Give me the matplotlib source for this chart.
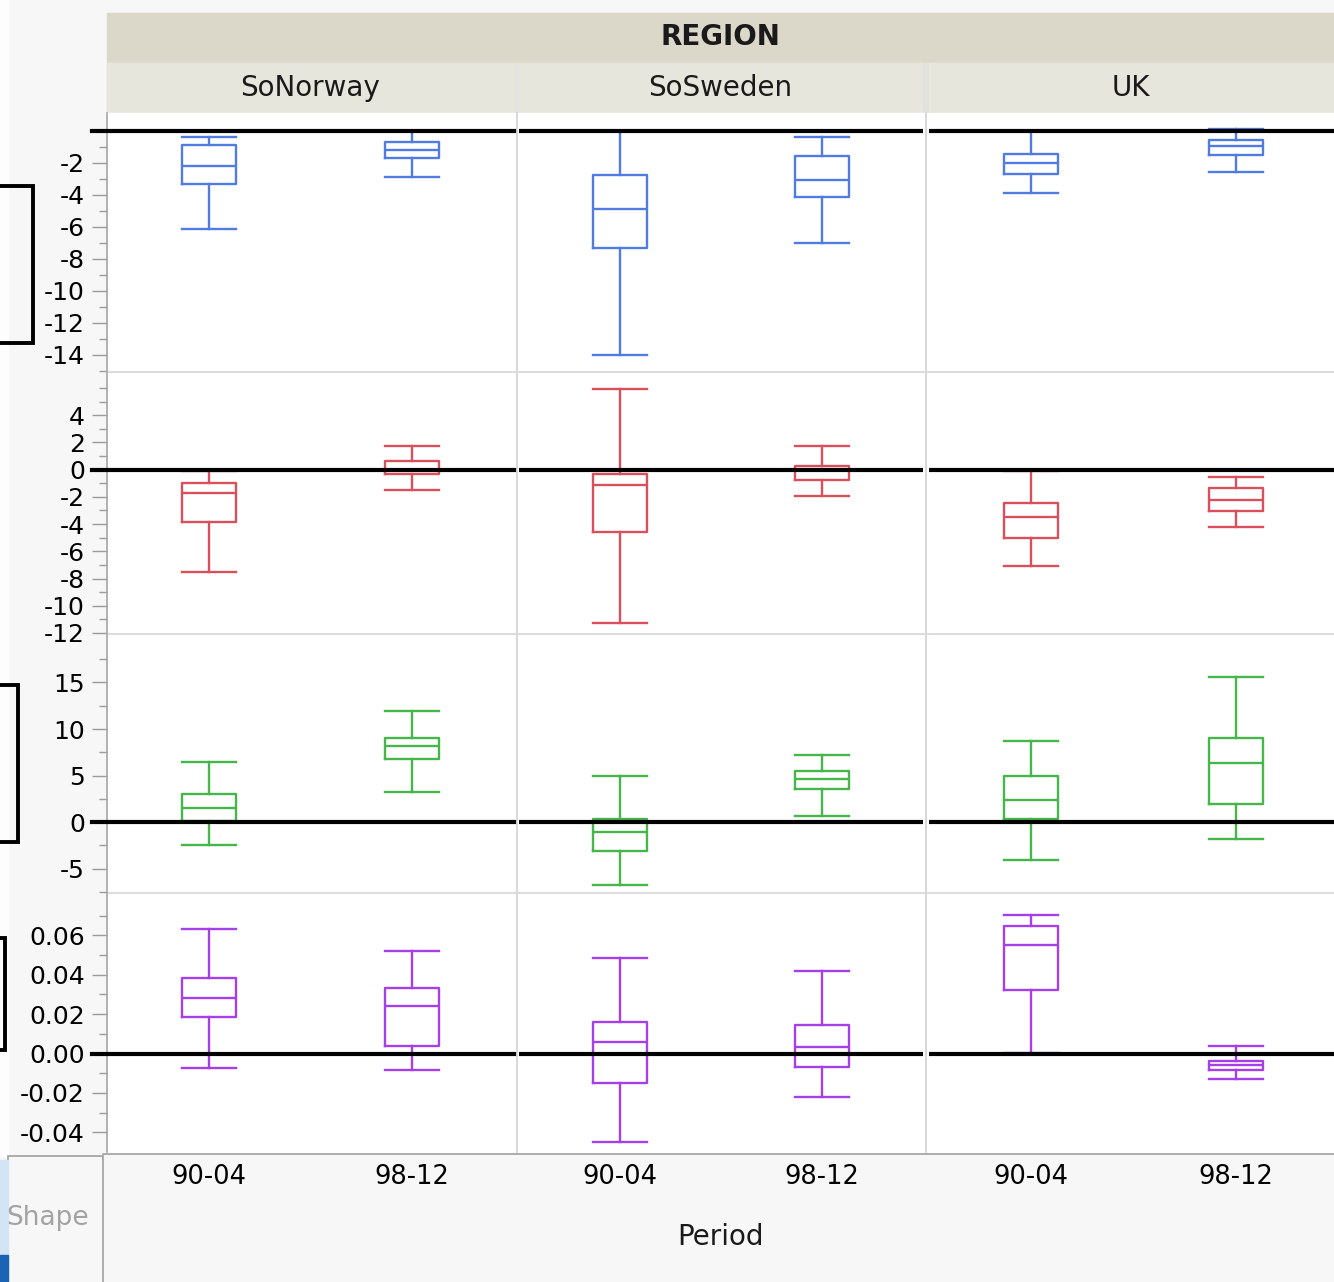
import matplotlib.pyplot as plt
from matplotlib.patches import Rectangle
from matplotlib.ticker import FormatStrFormatter

plt.rcParams['axes.unicode_minus'] = False
plt.rcParams['font.family'] = 'DejaVu Sans'

regions = ['SoNorway', 'SoSweden', 'UK']
periods = ['90-04', '98-12']

# order in every list: SoNorway 90-04, SoNorway 98-12, SoSweden 90-04, SoSweden 98-12, UK 90-04, UK 98-12
row1_whishi = [-0.37, -0.05, 0.0, -0.39, -0.05, 0.1]
row1_q3 = [-0.88, -0.74, -2.75, -1.57, -1.44, -0.61]
row1_med = [-2.23, -1.19, -4.86, -3.06, -2.02, -0.99]
row1_q1 = [-3.32, -1.71, -7.35, -4.17, -2.68, -1.5]
row1_whislo = [-6.16, -2.87, -14.0, -7.03, -3.88, -2.58]

row2_whishi = [-0.1, 1.77, 5.89, 1.77, -0.12, -0.56]
row2_q3 = [-0.97, 0.6, -0.29, 0.24, -2.45, -1.36]
row2_med = [-1.7, 0.0, -1.14, -0.05, -3.47, -2.23]
row2_q1 = [-3.86, -0.34, -4.6, -0.73, -5.0, -3.03]
row2_whislo = [-7.52, -1.5, -11.25, -1.92, -7.1, -4.2]

row3_whishi = [6.41, 11.9, 5.0, 7.25, 8.75, 15.6]
row3_q3 = [3.0, 9.0, 0.39, 5.5, 5.0, 9.0]
row3_med = [1.54, 8.14, -1.1, 4.68, 2.43, 6.4]
row3_q1 = [0.1, 6.78, -3.05, 3.6, 0.39, 1.9]
row3_whislo = [-2.47, 3.2, -6.7, 0.7, -4.1, -1.86]

row4_whishi = [0.063, 0.052, 0.0484, 0.0418, 0.0702, 0.0038]
row4_q3 = [0.0386, 0.0333, 0.016, 0.0144, 0.0646, -0.0038]
row4_med = [0.028, 0.024, 0.0058, 0.0033, 0.0553, -0.0058]
row4_q1 = [0.0187, 0.0038, -0.015, -0.0068, 0.0322, -0.0084]
row4_whislo = [-0.0072, -0.0085, -0.0448, -0.022, 0.0001, -0.0128]

row_colors = ['#4f7be3', '#d94f5c', '#45b649', '#a53fe8']

rows = [
    (row1_whislo, row1_q1, row1_med, row1_q3, row1_whishi),
    (row2_whislo, row2_q1, row2_med, row2_q3, row2_whishi),
    (row3_whislo, row3_q1, row3_med, row3_q3, row3_whishi),
    (row4_whislo, row4_q1, row4_med, row4_q3, row4_whishi),
]

# axis setup per row: limits, labelled ticks, minor ticks, label format
row_axes = [
    ((-15, 1.1), [-14, -12, -10, -8, -6, -4, -2], list(range(-15, 1, 1)), '%d'),
    ((-12, 7.1), [-12, -10, -8, -6, -4, -2, 0, 2, 4], list(range(-11, 7, 1)), '%d'),
    ((-7.5, 20.1), [-5, 0, 5, 10, 15], [-7.5, -2.5, 2.5, 7.5, 12.5, 17.5], '%d'),
    ((-0.05, 0.081), [-0.04, -0.02, 0.0, 0.02, 0.04, 0.06],
     [-0.03, -0.01, 0.01, 0.03, 0.05, 0.07], '%.2f'),
]

W, H = 1334, 1282
fig = plt.figure(figsize=(W / 100, H / 100), dpi=100, facecolor='#f7f7f7')

# background pieces (pixel coordinates)
bg = fig.add_axes([0, 0, 1, 1])
bg.set_xlim(0, W)
bg.set_ylim(H, 0)
bg.axis('off')
bg.add_patch(Rectangle((0, 0), 8, 1156, color='#fdfdfd'))
bg.add_patch(Rectangle((107, 13), 1227, 50, color='#dbd8c9'))
bg.add_patch(Rectangle((107, 63), 1227, 50, color='#e2e2e0'))
for x0, x1 in [(107, 514), (519, 922), (929, 1334)]:
    bg.add_patch(Rectangle((x0, 63), x1 - x0, 50, color='#e7e6dc'))
bg.add_patch(Rectangle((107, 113), 1227, 1040, color='white'))
for x in [516.5, 926]:
    bg.plot([x, x], [113, 1152], color='#d9d9d9', lw=1.5)
for y in [372, 634, 893]:
    bg.plot([107, 1334], [y, y], color='#dcdcdc', lw=1.5)
bg.plot([103, 1334], [1153.5, 1153.5], color='#a0a0a0', lw=1.2)
bg.add_patch(Rectangle((8, 1156), 95, 130, fc='#f7f7f7', ec='#a0a0a0', lw=1.2))
bg.add_patch(Rectangle((0, 1160), 8, 122, color='#d3e4f4'))
bg.add_patch(Rectangle((0, 1255), 8, 27, color='#1c62b5'))
for x0, y0, x1, y1 in [(-50, 186, 33, 343), (-50, 685, 18, 842), (-50, 938, 5, 1050)]:
    bg.add_patch(Rectangle((x0, y0), x1 - x0, y1 - y0, fill=False, ec='black', lw=2.8))

bg.text(720, 37, 'REGION', ha='center', va='center', fontsize=20, fontweight='bold', color='#1a1a1a')
for name, cx in zip(regions, [310, 720, 1131]):
    bg.text(cx, 88, name, ha='center', va='center', fontsize=20, color='#1a1a1a')
bg.text(720, 1237, 'Period', ha='center', va='center', fontsize=20, color='#1a1a1a')
bg.text(48, 1218, 'Shape', ha='center', va='center', fontsize=19, color='#a3a3a3')

col_px = [(107, 514), (519, 923), (929, 1338)]
row_px = [(113, 371), (373, 633), (635, 892), (894, 1152)]

for r, (stats_lists, (lims, majors, minors, fmt)) in enumerate(zip(rows, row_axes)):
    y0, y1 = row_px[r]
    color = row_colors[r]
    for c, (x0, x1) in enumerate(col_px):
        ax = fig.add_axes([x0 / W, 1 - y1 / H, (x1 - x0) / W, (y1 - y0) / H])
        ax.set_facecolor('white')
        for s in ax.spines.values():
            s.set_visible(False)
        ax.set_xlim(-0.5, 1.5)
        ax.set_ylim(*lims)

        stats = []
        for p in range(2):
            i = c * 2 + p
            lo, q1, med, q3, hi = (v[i] for v in stats_lists)
            stats.append({'whislo': lo, 'q1': q1, 'med': med, 'q3': q3,
                          'whishi': hi, 'fliers': []})
        props = dict(color=color, lw=1.7)
        ax.bxp(stats, positions=[0, 1], widths=0.265, capwidths=0.265,
               showfliers=False, boxprops=props, whiskerprops=props,
               capprops=props, medianprops=props, manage_ticks=False, zorder=3)

        if c == 0:
            ax.axhline(0, xmin=-15 / 407, xmax=1, color='black', lw=3, zorder=4, clip_on=False)
            ax.spines['left'].set_visible(True)
            ax.spines['left'].set_color('#a6a6a6')
            ax.spines['left'].set_linewidth(1.2)
            ax.set_yticks(majors)
            ax.set_yticks(minors, minor=True)
            ax.yaxis.set_major_formatter(FormatStrFormatter(fmt))
            ax.tick_params(axis='y', which='major', length=11, width=1, color='#9a9a9a',
                           labelsize=18, pad=5)
            ax.tick_params(axis='y', which='minor', length=6, width=1, color='#9a9a9a')
        else:
            ax.axhline(0, color='black', lw=3, zorder=4)
            ax.set_yticks([])

        if r == 3:
            ax.set_xticks([0, 1], periods)
            ax.tick_params(axis='x', length=0, labelsize=18.5, pad=9)
        else:
            ax.set_xticks([])

fig.savefig('out.png', dpi=100, facecolor=fig.get_facecolor())
